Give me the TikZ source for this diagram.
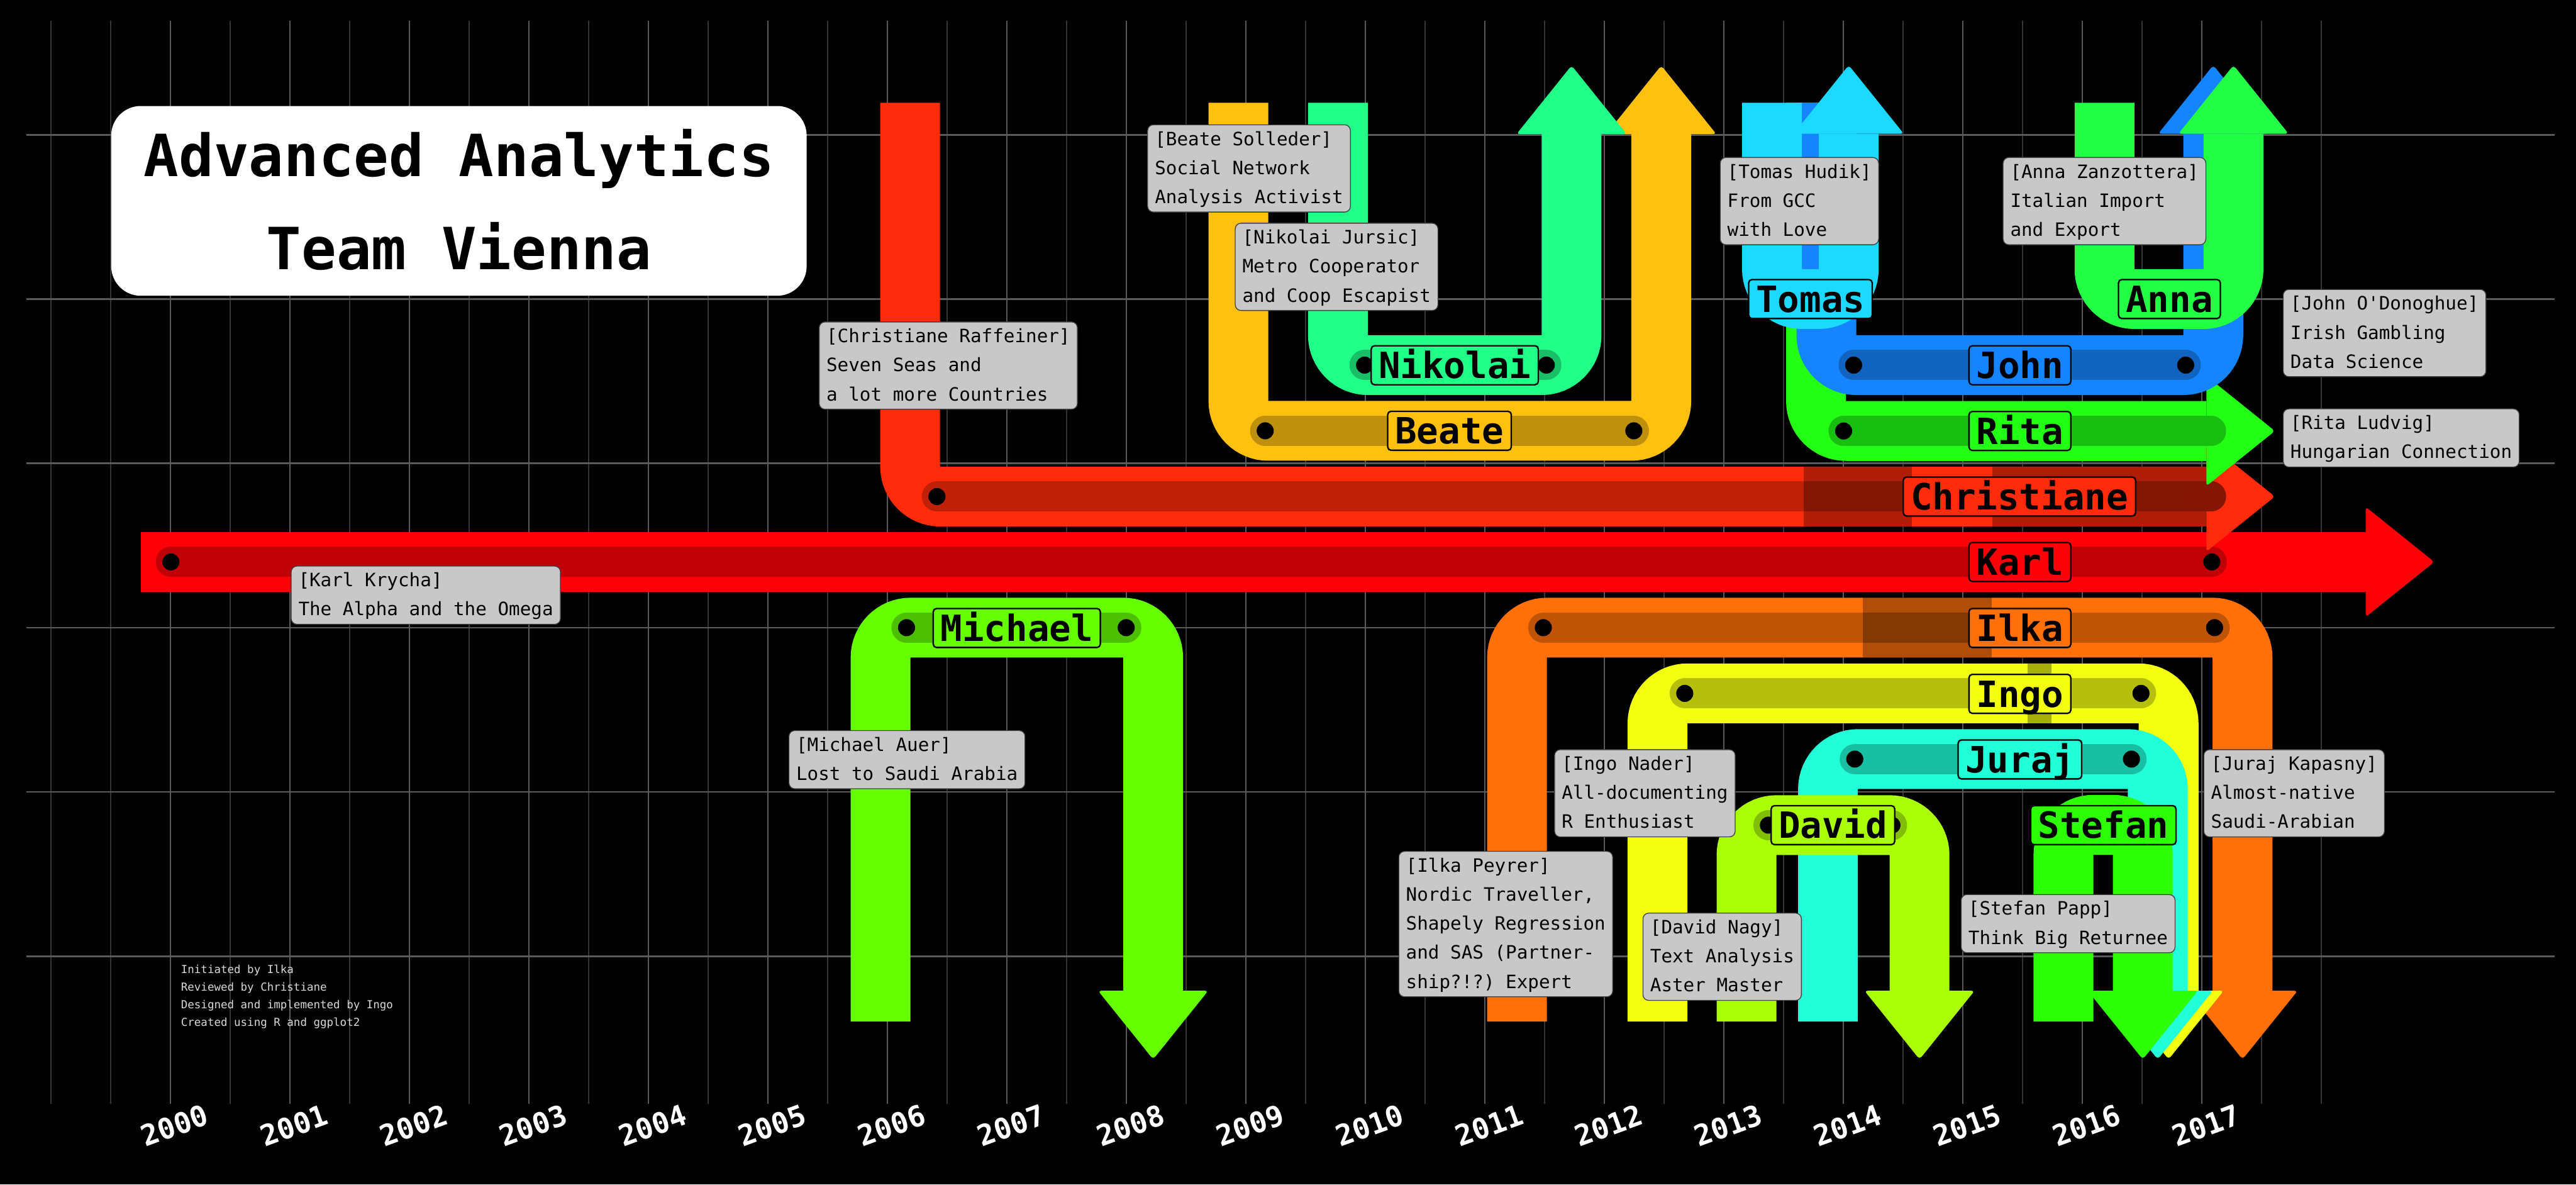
\documentclass[tikz,border=0pt]{standalone}
\usepackage{fontspec}
\setmonofont{DejaVu Sans Mono}
\definecolor{cKarl}{HTML}{FF0008}
\definecolor{cChristiane}{HTML}{FF2B0A}
\definecolor{cIlka}{HTML}{FF7009}
\definecolor{cBeate}{HTML}{FFC010}
\definecolor{cIngo}{HTML}{F2FF10}
\definecolor{cDavid}{HTML}{AAFF08}
\definecolor{cMichael}{HTML}{66FF00}
\definecolor{cStefan}{HTML}{2DFF05}
\definecolor{cRita}{HTML}{22FF15}
\definecolor{cAnna}{HTML}{22FF44}
\definecolor{cNikolai}{HTML}{22FF88}
\definecolor{cJuraj}{HTML}{22FFD8}
\definecolor{cTomas}{HTML}{1DD8FF}
\definecolor{cJohn}{HTML}{1585FF}
\definecolor{annogray}{HTML}{C8C8C8}
\definecolor{gridmaj}{HTML}{5A5A5A}
\definecolor{gridmin}{HTML}{363636}
\newcommand\astr{\rule[-5.2pt]{0pt}{17.7pt}}
\newcommand\headR[3]{\fill[#1,rounded corners=2pt] (#2,#3-33.5) -- (#2+41.7,#3) -- (#2,#3+33.5) -- cycle;}
\newcommand\headU[3]{\fill[#1,rounded corners=2pt] (#2-33.5,#3) -- (#2,#3-41.7) -- (#2+33.5,#3) -- cycle;}
\newcommand\headD[3]{\fill[#1,rounded corners=2pt] (#2-33.5,#3) -- (#2,#3+41.7) -- (#2+33.5,#3) -- cycle;}
\newcommand\tenure[4]{\draw[band,draw=#1!75!black] (#2,#4) -- (#3,#4);}
\newcommand\bdot[2]{\fill[black] (#1,#2) circle (5.2pt);}
\tikzset{
  lane/.style={line width=36.4pt, line cap=butt, rounded corners=18.2pt},
  band/.style={line width=18.4pt, line cap=round},
  namelab/.style={draw=black, line width=0.9pt, rounded corners=2pt,
    font=\ttfamily\bfseries\fontsize{22}{24}\selectfont,
    text height=16pt, text depth=0pt, inner xsep=4.5pt, inner ysep=3.85pt, text=black},
  anno/.style={draw=black!75, line width=0.5pt, fill=annogray, rounded corners=3.5pt,
    font=\ttfamily\fontsize{11.2}{17.7}\selectfont, align=left,
    inner xsep=4.4pt, inner ysep=0pt, anchor=north west, text=black},
  yearlab/.style={font=\ttfamily\bfseries\fontsize{17.5}{20}\selectfont, text=white, rotate=20, inner sep=0pt},
  credit/.style={font=\ttfamily\fontsize{6.7}{8}\selectfont, text=white!85!black, anchor=base west, inner sep=0pt},
  titlefont/.style={font=\ttfamily\bfseries\fontsize{35.4}{40}\selectfont, text=black, anchor=base, inner sep=0pt},
  patch/.style={fill=black, opacity=0.31}
}
\begin{document}
\begin{tikzpicture}[x=1pt,y=-1pt]
\useasboundingbox (0,0) rectangle (1568,721);
\fill[black] (0,0) rectangle (1568,721);
% grid
\foreach \k in {0,...,38} \draw[gridmin, line width=0.7pt] ({103.7+36.37*(\k-2)},12.5) -- ({103.7+36.37*(\k-2)},672);
\foreach \k in {0,...,17} \draw[gridmaj, line width=1pt] ({103.7+72.74*\k},12.5) -- ({103.7+72.74*\k},672);
\foreach \yy in {82,182,282,382,482,582} \draw[gridmaj, line width=1pt] (16,\yy) -- (1555,\yy);
% Karl
\draw[lane, draw=cKarl] (85.7,342) -- (1440,342);
\headR{cKarl}{1440}{342}
\tenure{cKarl}{104}{1346.3}{342}
\bdot{104}{342}\bdot{1346.3}{342}
% Christiane
\draw[lane, draw=cChristiane] (554,62.5) -- (554,302.2) -- (1343,302.2);
\headR{cChristiane}{1343}{302.2}
\tenure{cChristiane}{570.3}{1345.8}{302.2}
\bdot{570.3}{302.2}
\fill[patch] (1097.8,283.9) rectangle (1163.8,320.5);
\fill[patch] (1212.9,283.9) rectangle (1343,320.5);
\draw[line width=18.4pt, line cap=round, draw=cChristiane!52!black] (1338,302.2) -- (1345.8,302.2);
% Michael
\draw[lane, draw=cMichael] (536,621.7) -- (536,382) -- (701.9,382) -- (701.9,603);
\headD{cMichael}{701.9}{603}
\tenure{cMichael}{551.8}{685.5}{382}
\bdot{551.8}{382}\bdot{685.5}{382}
% Ilka
\draw[lane, draw=cIlka] (923.4,621.7) -- (923.4,382) -- (1365,382) -- (1365,603);
\headD{cIlka}{1365}{603}
\tenure{cIlka}{939.4}{1348}{382}
\bdot{939.4}{382}\bdot{1348}{382}
\fill[patch] (1134,363.8) rectangle (1212.2,400.2);
% Beate
\draw[lane, draw=cBeate] (753.8,62.5) -- (753.8,262.2) -- (1011.2,262.2) -- (1011.2,81.6);
\headU{cBeate}{1011.2}{81.6}
\tenure{cBeate}{770.1}{994.5}{262.2}
\bdot{770.1}{262.2}\bdot{994.5}{262.2}
% Nikolai
\draw[lane, draw=cNikolai] (814.4,62.5) -- (814.4,222.2) -- (956.6,222.2) -- (956.6,81.6);
\headU{cNikolai}{956.6}{81.6}
\tenure{cNikolai}{830.6}{941.2}{222.2}
\bdot{830.6}{222.2}\bdot{941.2}{222.2}
% Ingo
\draw[lane, draw=cIngo] (1008.9,621.7) -- (1008.9,422) -- (1320,422) -- (1320,603);
\headD{cIngo}{1320}{603}
\tenure{cIngo}{1025.5}{1303.2}{422}
\bdot{1025.5}{422}\bdot{1303.2}{422}
\fill[patch] (1234.3,403.8) rectangle (1248.9,440.2);
% Juraj
\draw[lane, draw=cJuraj] (1112.7,621.7) -- (1112.7,462) -- (1313.4,462) -- (1313.4,603);
\headD{cJuraj}{1313.4}{603}
\tenure{cJuraj}{1129}{1297.4}{462}
\bdot{1129}{462}\bdot{1297.4}{462}
% David
\draw[lane, draw=cDavid] (1063.1,621.7) -- (1063.1,502.2) -- (1168.4,502.2) -- (1168.4,603);
\headD{cDavid}{1168.4}{603}
\tenure{cDavid}{1076.4}{1151.6}{502.2}
\bdot{1076.4}{502.2}\bdot{1151.6}{502.2}
% Stefan
\draw[lane, draw=cStefan] (1256,621.7) -- (1256,502) -- (1304.3,502) -- (1304.3,603);
\headD{cStefan}{1304.3}{603}
% Rita
\draw[lane, draw=cRita] (1105.4,62.5) -- (1105.4,262.3) -- (1343,262.3);
\headR{cRita}{1343}{262.3}
\tenure{cRita}{1122.2}{1345.8}{262.3}
\bdot{1122.2}{262.3}
% John
\draw[lane, draw=cJohn] (1111.7,62.5) -- (1111.7,222.2) -- (1347.2,222.2) -- (1347.2,81.4);
\headU{cJohn}{1347.2}{81.4}
\tenure{cJohn}{1128.3}{1330.4}{222.2}
\bdot{1128.3}{222.2}\bdot{1330.4}{222.2}
% Tomas
\draw[lane, draw=cTomas] (1078.6,62.5) -- (1078.6,182) -- (1125.3,182) -- (1125.3,81.4);
\headU{cTomas}{1125.3}{81.4}
% Anna
\draw[lane, draw=cAnna] (1281,62.5) -- (1281,182) -- (1359.5,182) -- (1359.5,81.4);
\headU{cAnna}{1359.5}{81.4}
% name labels
\node[namelab, fill=cKarl] (nKarl) at (1229.5,342) {Karl};
\node[namelab, fill=cChristiane] (nChristiane) at (1229.2,302.2) {Christiane};
\node[namelab, fill=cRita] (nRita) at (1229.5,262.3) {Rita};
\node[namelab, fill=cJohn] (nJohn) at (1229.5,222.3) {John};
\node[namelab, fill=cTomas] (nTomas) at (1102,182) {Tomas};
\node[namelab, fill=cAnna] (nAnna) at (1320.5,182) {Anna};
\node[namelab, fill=cIlka] (nIlka) at (1229.5,382.2) {Ilka};
\node[namelab, fill=cIngo] (nIngo) at (1229.5,422.3) {Ingo};
\node[namelab, fill=cJuraj] (nJuraj) at (1229.5,462.2) {Juraj};
\node[namelab, fill=cDavid] (nDavid) at (1115.7,502.2) {David};
\node[namelab, fill=cStefan] (nStefan) at (1280.3,502.2) {Stefan};
\node[namelab, fill=cNikolai] (nNikolai) at (885.5,222.3) {Nikolai};
\node[namelab, fill=cBeate] (nBeate) at (882.3,262.2) {Beate};
\node[namelab, fill=cMichael] (nMichael) at (618.9,382.2) {Michael};
% annotations
\node[anno] (aBeate) at (698.3,75.7) {\astr[Beate Solleder]\\\astr Social Network\\\astr Analysis Activist};
\node[anno] (aNikolai) at (751.6,135.6) {\astr[Nikolai Jursic]\\\astr Metro Cooperator\\\astr and Coop Escapist};
\node[anno] (aChristiane) at (498.4,195.7) {\astr[Christiane Raffeiner]\\\astr Seven Seas and\\\astr a lot more Countries};
\node[anno] (aTomas) at (1046.8,95.6) {\astr[Tomas Hudik]\\\astr From GCC\\\astr with Love};
\node[anno] (aAnna) at (1219,95.6) {\astr[Anna Zanzottera]\\\astr Italian Import\\\astr and Export};
\node[anno] (aJohn) at (1389.5,175.9) {\astr[John O'Donoghue]\\\astr Irish Gambling\\\astr Data Science};
\node[anno] (aRita) at (1389.5,248.6) {\astr[Rita Ludvig]\\\astr Hungarian Connection};
\node[anno] (aKarl) at (177,344.3) {\astr[Karl Krycha]\\\astr The Alpha and the Omega};
\node[anno] (aMichael) at (480,444.4) {\astr[Michael Auer]\\\astr Lost to Saudi Arabia};
\node[anno] (aIlka) at (851.2,517.9) {\astr[Ilka Peyrer]\\\astr Nordic Traveller,\\\astr Shapely Regression\\\astr and SAS (Partner-\\\astr ship?!?) Expert};
\node[anno] (aIngo) at (946,456) {\astr[Ingo Nader]\\\astr All-documenting\\\astr R Enthusiast};
\node[anno] (aDavid) at (999.8,555.5) {\astr[David Nagy]\\\astr Text Analysis\\\astr Aster Master};
\node[anno] (aJuraj) at (1341.2,456) {\astr[Juraj Kapasny]\\\astr Almost-native\\\astr Saudi-Arabian};
\node[anno] (aStefan) at (1193.5,544.2) {\astr[Stefan Papp]\\\astr Think Big Returnee};
% title
\fill[white, rounded corners=18pt] (67.7,64.5) rectangle (491,180);
\node[titlefont] (t1) at (279.4,107.2) {Advanced Analytics};
\node[titlefont] (t2) at (279.4,164) {Team Vienna};
% years
\foreach \yr [count=\i from 0] in {2000,...,2017} \node[yearlab] (y\yr) at ({106.2+72.74*\i},685) {\yr};
% credits
\node[credit] (c1) at (110,592.4) {Initiated by Ilka};
\node[credit] (c2) at (110,603.1) {Reviewed by Christiane};
\node[credit] (c3) at (110,613.8) {Designed and implemented by Ingo};
\node[credit] (c4) at (110,624.5) {Created using R and ggplot2};
\end{tikzpicture}
\end{document}
